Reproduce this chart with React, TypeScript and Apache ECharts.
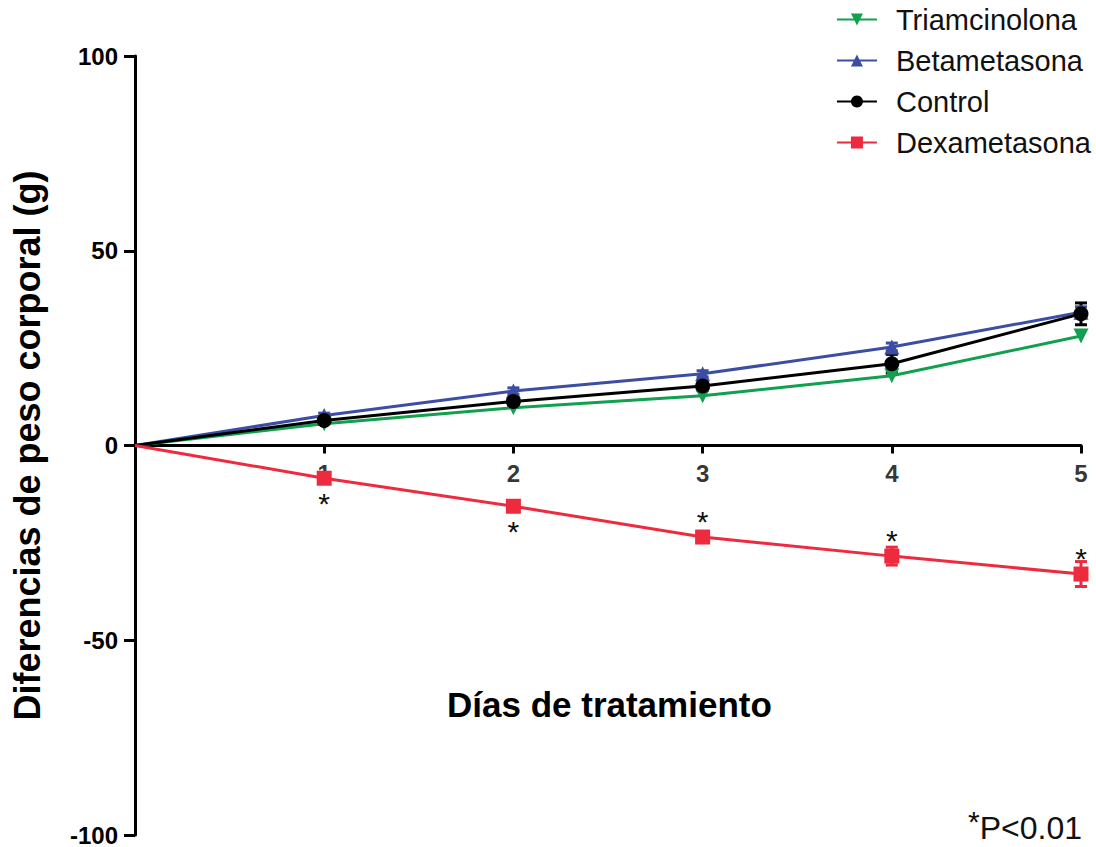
import React, { useEffect, useRef } from "react";
import * as echarts from "echarts";

const days = [0, 1, 2, 3, 4, 5];
const tickDays = [1, 2, 3, 4, 5];
const triamcinolona = [0, 5.6, 9.7, 12.8, 17.9, 28.1];
const betametasona = [0, 7.7, 14.0, 18.4, 25.3, 34.2];
const control = [0, 6.4, 11.3, 15.3, 21.0, 33.8];
const dexametasona = [0, -8.4, -15.6, -23.5, -28.4, -33.0];
const controlErr = [0, 0.8, 1.0, 1.2, 2.4, 2.8];
const betaErr = [0, 0.6, 0.8, 0.8, 1.0, 1.4];
const dexErr = [0, 1.2, 1.2, 1.2, 2.3, 3.2];
const asteriskSide = ["", "bottom", "bottom", "top", "top", "top"];

const GREEN = "#10a04e";
const BLUE = "#3b4ea3";
const BLACK = "#000000";
const RED = "#ee2a3e";
const FONT = "Liberation Sans, Arial, sans-serif";

function errData(vals: number[], errs: number[]) {
  return days
    .map((d, i) => [d, vals[i] - errs[i], vals[i] + errs[i]])
    .filter((r, i) => errs[i] > 0);
}

function errSeries(vals: number[], errs: number[], color: string) {
  return {
    type: "custom",
    silent: true,
    z: 1,
    data: errData(vals, errs),
    renderItem: (params: any, api: any) => {
      const x = api.value(0);
      const lo = api.coord([x, api.value(1)]);
      const hi = api.coord([x, api.value(2)]);
      const w = 6;
      const style = { stroke: color, lineWidth: 3 };
      return {
        type: "group",
        children: [
          { type: "line", shape: { x1: lo[0], y1: lo[1], x2: hi[0], y2: hi[1] }, style },
          { type: "line", shape: { x1: lo[0] - w, y1: lo[1], x2: lo[0] + w, y2: lo[1] }, style },
          { type: "line", shape: { x1: hi[0] - w, y1: hi[1], x2: hi[0] + w, y2: hi[1] }, style },
        ],
      };
    },
  };
}

export default function App() {
  const ref = useRef<HTMLDivElement>(null);
  useEffect(() => {
    if (!ref.current) return;
    const chart = echarts.init(ref.current, null, { renderer: "svg" });
    const lineBase = (name: string, vals: number[], color: string, symbol: string, size: number, rotate = 0) => ({
      name,
      type: "line",
      data: days.map((d, i) => ({ value: [d, vals[i]], symbol: i === 0 ? "none" : symbol })),
      symbol,
      symbolSize: size,
      symbolRotate: rotate,
      showSymbol: true,
      lineStyle: { color, width: 3 },
      itemStyle: { color },
      z: 3,
    });
    const dexSeries: any = lineBase("Dexametasona", dexametasona, RED, "rect", 15);
    dexSeries.data = days.map((d, i) => ({
      value: [d, dexametasona[i]],
      symbol: i === 0 ? "none" : "rect",
      label:
        i === 0
          ? { show: false }
          : {
              show: true,
              position: asteriskSide[i],
              distance: asteriskSide[i] === "bottom" ? 3 : -7,
              formatter: "*",
              color: "#111",
              fontSize: 30,
              fontFamily: FONT,
            },
    }));
    chart.setOption({
      animation: false,
      backgroundColor: "#ffffff",
      textStyle: { fontFamily: FONT },
      grid: { left: 135, right: 15, top: 56, bottom: 12, containLabel: false },
      legend: {
        orient: "vertical",
        right: 0,
        top: 0,
        itemGap: 12,
        itemWidth: 40,
        itemHeight: 15,
        data: ["Triamcinolona", "Betametasona", "Control", "Dexametasona"],
        textStyle: { fontSize: 29, color: "#111", fontFamily: FONT, padding: [0, 0, 0, 14] },
      },
      xAxis: {
        type: "value",
        min: 0,
        max: 5,
        interval: 1,
        axisLine: { onZero: true, lineStyle: { color: "#000", width: 3 } },
        axisTick: { show: true, length: 8, lineStyle: { color: "#000", width: 3 } },
        axisLabel: { show: false },
        splitLine: { show: false },
      },
      yAxis: {
        type: "value",
        min: -100,
        max: 100,
        interval: 50,
        name: "Diferencias de peso corporal (g)",
        nameLocation: "middle",
        nameGap: 90,
        nameTextStyle: { fontSize: 36, fontWeight: "bold", color: "#000", fontFamily: FONT },
        axisLine: { show: true, lineStyle: { color: "#000", width: 3 } },
        axisTick: { show: true, length: 11, lineStyle: { color: "#000", width: 3 } },
        axisLabel: { color: "#000", fontSize: 24, fontWeight: "bold", margin: 17, fontFamily: FONT },
        splitLine: { show: false },
      },
      graphic: [
        {
          type: "text",
          left: 447,
          top: 687,
          style: {
            text: "Días de tratamiento",
            fontSize: 35,
            fontWeight: "bold",
            fill: "#000",
            fontFamily: FONT,
          },
        },
        {
          type: "text",
          right: 14,
          top: 806,
          style: {
            text: "{a|*}{b|P<0.01}",
            rich: {
              a: { fontSize: 30, fill: "#111", verticalAlign: "top", fontFamily: FONT, padding: [0, 0, 14, 0] },
              b: { fontSize: 32, fill: "#111", fontFamily: FONT },
            },
          },
        },
      ],
      series: [
        errSeries(control, controlErr, BLACK),
        errSeries(betametasona, betaErr, BLUE),
        errSeries(dexametasona, dexErr, RED),
        lineBase("Triamcinolona", triamcinolona, GREEN, "triangle", 15, 180),
        lineBase("Betametasona", betametasona, BLUE, "triangle", 15),
        lineBase("Control", control, BLACK, "circle", 15),
        dexSeries,
        {
          name: "xTickLabels",
          type: "scatter",
          silent: true,
          symbol: "circle",
          symbolSize: 1,
          itemStyle: { color: "rgba(0,0,0,0)" },
          z: 2,
          data: tickDays.map((d) => [d, 0]),
          label: {
            show: true,
            position: "bottom",
            distance: 15,
            formatter: (p: any) => String(p.value[0]),
            color: "#000",
            fontSize: 24,
            fontWeight: "bold",
            fontFamily: FONT,
          },
        },
      ],
    });
    return () => chart.dispose();
  }, []);
  return (
    <div
      ref={ref}
      style={{ position: "absolute", left: 0, top: 0, width: 1096, height: 847 }}
    />
  );
}
